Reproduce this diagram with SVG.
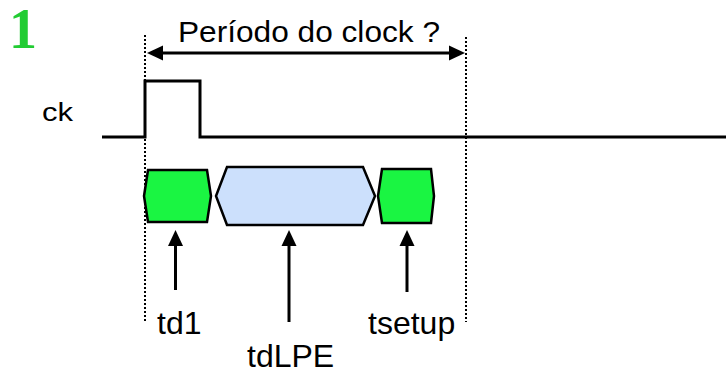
<svg xmlns="http://www.w3.org/2000/svg" width="726" height="369" viewBox="0 0 726 369">
<style>
.t{font-family:"Liberation Sans",Arial,sans-serif;fill:#000}
.ln{stroke:#000;stroke-width:3;fill:none}
.dot{stroke:#000;stroke-width:2;stroke-dasharray:2 2;fill:none}
.g{fill:#1af542;stroke:#000;stroke-width:2.5;stroke-linejoin:miter}
.b{fill:#cce0fc;stroke:#000;stroke-width:2.5;stroke-linejoin:miter}
.ah{fill:#000}
</style>
<rect width="726" height="369" fill="#fff"/>
<text x="9" y="48" font-family="'Liberation Serif','Times New Roman',serif" font-weight="bold" font-size="56" fill="#22cc33">1</text>
<g id="period-label"><text class="t" x="178" y="42" font-size="29" textLength="262" lengthAdjust="spacingAndGlyphs">Período do clock ?</text></g>
<g id="ck-label"><text class="t" x="42" y="121" font-size="26" textLength="31" lengthAdjust="spacingAndGlyphs">ck</text></g>
<g id="guides">
<line class="dot" x1="145" y1="35" x2="145" y2="322"/>
<line class="dot" x1="466" y1="37" x2="466" y2="322"/>
</g>
<g id="clock">
<polyline class="ln" stroke-width="2.5" points="102,137 145,137 145,81 200,81 200,137 726,137"/>
</g>
<g id="td1-box"><polygon class="g" points="148,170 207,170 211,196 207,222 148,222 144,196"/></g>
<g id="tdLPE-box"><polygon class="b" points="227,167 363,167 375,196 363,225 227,225 216,196"/></g>
<g id="tsetup-box"><polygon class="g" points="382,169 431,169 434,196 431,223 382,223 378,196"/></g>
<g id="connectors">
<line class="ln" x1="160" y1="53" x2="450" y2="53"/>
<polygon class="ah" points="147,53 163,45.5 163,60.5"/>
<polygon class="ah" points="465,53 449,45.5 449,60.5"/>
<line class="ln" x1="175.5" y1="244" x2="175.5" y2="290"/>
<polygon class="ah" points="175.5,230 168,246 183,246"/>
<line class="ln" x1="289" y1="244" x2="289" y2="322"/>
<polygon class="ah" points="289,230 281.5,246 296.5,246"/>
<line class="ln" x1="407" y1="244" x2="407" y2="292"/>
<polygon class="ah" points="407,230 399.5,246 414.5,246"/>
</g>
<g id="td1-label"><text class="t" x="157" y="334" font-size="32">td1</text></g>
<g id="tdLPE-label"><text class="t" x="247" y="367" font-size="32">tdLPE</text></g>
<g id="tsetup-label"><text class="t" x="368" y="334" font-size="32">tsetup</text></g>
</svg>
